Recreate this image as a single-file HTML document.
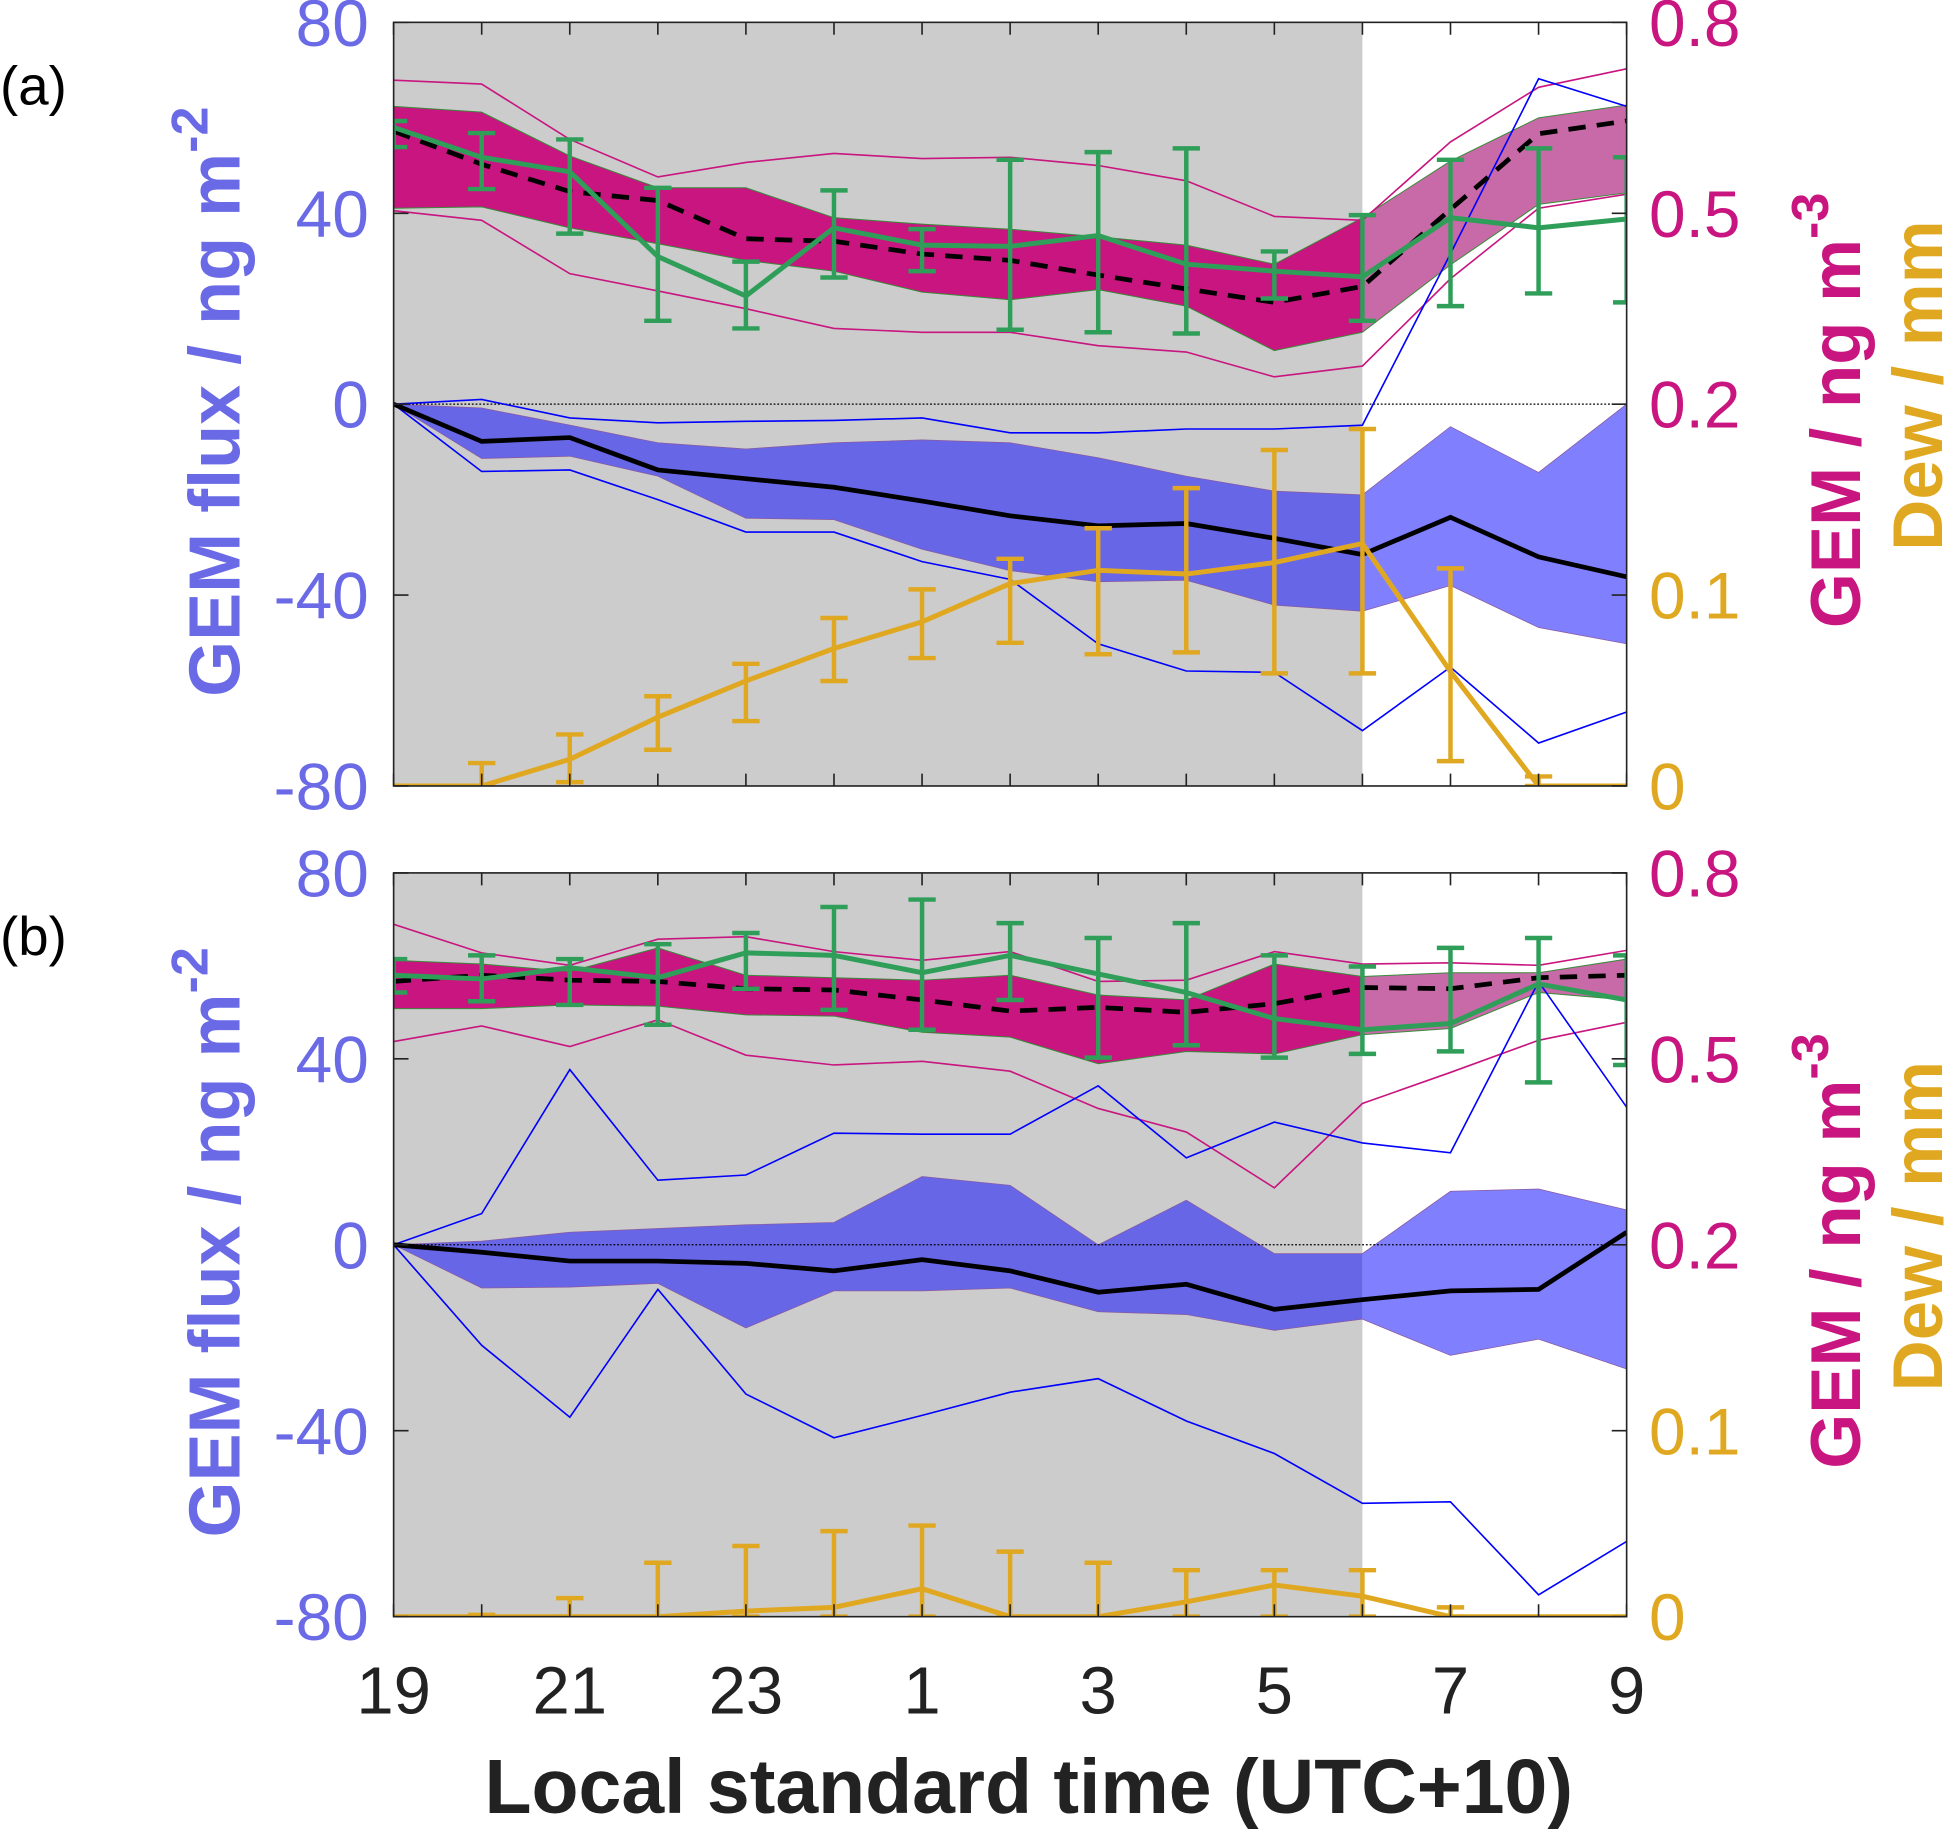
<!DOCTYPE html>
<html><head><meta charset="utf-8"><style>
html,body{margin:0;padding:0;background:#fff;}
svg{display:block;}
text{font-family:"Liberation Sans",sans-serif;}
</style></head><body>
<svg id="chart" xmlns="http://www.w3.org/2000/svg" width="1947" height="1829" viewBox="0 0 1568 1473" preserveAspectRatio="none"></svg>
<script>
const hours = [19,20,21,22,23,0,1,2,3,4,5,6,7,8,9];
const xTickLabels = ["19","21","23","1","3","5","7","9"];
const leftTicks = [80,40,0,-40,-80];
const gemTicks = [0.8,0.5,0.2];
const dewTicks = [0.1,0];
const nightEndIndex = 11;
// Panel (a)
const aFluxMean = [0,-7.8,-7.0,-13.8,-15.6,-17.4,-20.3,-23.4,-25.5,-25.0,-28.1,-31.5,-23.7,-32.0,-36.2];
const aFluxQ1 = [0,-0.8,-4.4,-8.1,-9.4,-8.1,-7.5,-8.1,-11.2,-15.1,-18.2,-19.0,-4.7,-14.3,0];
const aFluxQ3 = [0,-11.4,-10.9,-15.1,-23.9,-24.2,-30.4,-34.9,-37.2,-36.9,-42.1,-43.4,-38.0,-46.8,-50.2];
const aFluxMax = [0,1.0,-2.9,-3.9,-3.6,-3.4,-2.9,-6.0,-6.0,-5.2,-5.2,-4.4,31.5,68.2,62.4];
const aFluxMin = [0,-14.1,-13.8,-20.0,-26.8,-26.8,-33.0,-36.7,-50.2,-55.9,-56.2,-68.4,-55.1,-71.0,-64.5];
const aGemBandHi = [0.668,0.659,0.59,0.54,0.54,0.493,0.483,0.475,0.463,0.45,0.42,0.493,0.582,0.65,0.67];
const aGemBandLo = [0.508,0.51,0.477,0.452,0.426,0.409,0.376,0.364,0.38,0.354,0.284,0.313,0.419,0.514,0.532];
const aGemMean = [0.629,0.577,0.534,0.52,0.46,0.456,0.436,0.426,0.403,0.381,0.36,0.385,0.506,0.625,0.645];
const aGemMax = [0.709,0.703,0.616,0.557,0.58,0.594,0.586,0.588,0.575,0.551,0.495,0.489,0.612,0.698,0.727];
const aGemMin = [0.504,0.489,0.405,0.378,0.35,0.319,0.313,0.313,0.292,0.282,0.243,0.26,0.397,0.508,0.53];
const aGreen = [0.635,0.588,0.565,0.432,0.37,0.477,0.45,0.448,0.465,0.42,0.409,0.4,0.493,0.477,0.491];
const aGreenTop = [0.645,0.626,0.616,0.540,0.424,0.536,0.475,0.584,0.596,0.602,0.440,0.497,0.584,0.602,0.588];
const aGreenBot = [0.604,0.538,0.468,0.331,0.319,0.399,0.409,0.317,0.313,0.311,0.366,0.331,0.354,0.374,0.360];
const aDew = [0,0,0.014,0.036,0.055,0.072,0.086,0.106,0.113,0.111,0.117,0.127,0.060,0,0];
const aDewTop = [0,0.012,0.027,0.047,0.064,0.088,0.103,0.119,0.135,0.156,0.176,0.187,0.114,0.005,0];
const aDewBot = [0,0,0.002,0.019,0.034,0.055,0.067,0.075,0.069,0.07,0.059,0.059,0.013,0,0];
// Panel (b)
const bFluxMean = [0,-1.6,-3.5,-3.5,-4.0,-5.6,-3.2,-5.6,-10.2,-8.5,-13.9,-11.8,-9.9,-9.6,2.7];
const bFluxQ1 = [0,0.8,2.7,3.5,4.3,4.8,14.7,12.8,0,9.6,-1.9,-1.9,11.5,12.0,7.5];
const bFluxQ3 = [0,-9.3,-9.1,-8.3,-17.9,-9.9,-9.9,-9.3,-14.4,-15.0,-18.4,-16.0,-23.8,-20.3,-26.7];
const bFluxMax = [0,6.7,37.7,13.9,15.0,24.0,23.8,23.8,34.2,18.7,26.4,21.9,19.8,56.6,29.6];
const bFluxMin = [0,-21.6,-37.1,-9.6,-32.1,-41.5,-36.7,-31.7,-28.8,-37.9,-44.9,-55.6,-55.3,-75.3,-63.8];
const bGemBandHi = [0.659,0.653,0.641,0.679,0.635,0.631,0.627,0.635,0.603,0.595,0.653,0.633,0.639,0.639,0.661];
const bGemBandLo = [0.581,0.581,0.587,0.585,0.571,0.569,0.543,0.535,0.492,0.512,0.508,0.539,0.549,0.607,0.595];
const bGemMean = [0.625,0.635,0.627,0.625,0.613,0.611,0.595,0.577,0.583,0.575,0.589,0.615,0.613,0.631,0.635];
const bGemMax = [0.717,0.671,0.651,0.693,0.697,0.673,0.659,0.673,0.625,0.627,0.673,0.653,0.655,0.651,0.675];
const bGemMin = [0.528,0.553,0.52,0.563,0.506,0.49,0.496,0.48,0.42,0.382,0.292,0.428,0.478,0.53,0.559];
const bGreen = [0.635,0.629,0.647,0.631,0.671,0.667,0.639,0.667,0.637,0.607,0.565,0.547,0.557,0.621,0.595];
const bGreenTop = [0.661,0.667,0.661,0.685,0.703,0.745,0.757,0.719,0.695,0.719,0.667,0.649,0.679,0.695,0.667];
const bGreenBot = [0.607,0.593,0.587,0.555,0.613,0.579,0.547,0.595,0.502,0.522,0.502,0.508,0.512,0.462,0.49];
const bDew = [0,0,0,0,0.003,0.005,0.015,0,0,0.008,0.017,0.011,0,0,0];
const bDewTop = [0,0.001,0.010,0.029,0.038,0.046,0.049,0.035,0.029,0.025,0.025,0.025,0.005,0,0];
const bDewBot = [0,0,0,0,0,0,0,0,0,0,0,0,0,0,0];

const NS = "http://www.w3.org/2000/svg";
const svg = document.getElementById("chart");
const X0 = 317, X1 = 1310;
function mk(tag, attrs, parent){const e=document.createElementNS(NS,tag);for(const k in attrs)e.setAttribute(k,attrs[k]);(parent||svg).appendChild(e);return e;}
function xScale(i){return X0+(X1-X0)*i/(hours.length-1);}
function pts(arr,f){return arr.map((v,i)=>xScale(i).toFixed(1)+","+f(v).toFixed(1)).join(" ");}
function band(a,b,f){return pts(a,f)+" "+b.map((v,i)=>i).reverse().map(i=>xScale(i).toFixed(1)+","+f(b[i]).toFixed(1)).join(" ");}

const BL="#6a6ae6", MG="#c8157f", GD="#e0a820", GR="#2e9e58";

function panel(id, top, bot, d){
  const mid=(top+bot)/2;
  const flux=v=>mid-(v/80)*(mid-top);
  const gem=v=>mid-(v-0.2)/0.6*(mid-top);
  const dew=v=>bot-(v/0.2)*(bot-mid);
  const g=mk("g",{});
  
  
  const xn=xScale(nightEndIndex);
  const cpN=mk("clipPath",{id:id+"cn"},g); mk("rect",{x:X0,y:top,width:xn-X0,height:bot-top},cpN);
  const cpD=mk("clipPath",{id:id+"cd"},g); mk("rect",{x:xn,y:top,width:X1-xn,height:bot-top},cpD);
  const cpA=mk("clipPath",{id:id+"ca"},g); mk("rect",{x:X0,y:top,width:X1-X0,height:bot-top},cpA);
  const night=mk("rect",{x:X0,y:top,width:xn-X0,height:bot-top,fill:"#cccccc"},g);
  
  
  const gc=mk("g",{"clip-path":"url(#"+id+"ca)"},g);
  const mb1=mk("polygon",{points:band(d.gHi,d.gLo,gem),fill:"#c8157f",stroke:"#3a8a3a","stroke-width":0.8,"clip-path":"url(#"+id+"cn)"},gc);
  
  
  const mb2=mk("polygon",{points:band(d.gHi,d.gLo,gem),fill:"#c86aa8",stroke:"#3a8a3a","stroke-width":0.8,"clip-path":"url(#"+id+"cd)"},gc);
  
  
  const fb1=mk("polygon",{points:band(d.fQ1,d.fQ3,flux),fill:"#6666e6",stroke:"#8a5aa0","stroke-width":0.6,"clip-path":"url(#"+id+"cn)"},gc);
  
  
  const fb2=mk("polygon",{points:band(d.fQ1,d.fQ3,flux),fill:"#8080ff",stroke:"#8a5aa0","stroke-width":0.6,"clip-path":"url(#"+id+"cd)"},gc);
  
  
  const zl=mk("line",{x1:X0,x2:X1,y1:mid,y2:mid,stroke:"#000","stroke-width":1,"stroke-dasharray":"1.5,1.5"},gc);
  
  
  const lines=[
    [d.gMax,gem,MG,1.3,"gem-max-line"],[d.gMin,gem,MG,1.3,"gem-min-line"],
    [d.fMax,flux,"#0000ff",1.3,"flux-max-line"],[d.fMin,flux,"#0000ff",1.3,"flux-min-line"]];
  lines.forEach(L=>{const p=mk("polyline",{points:pts(L[0],L[1]),fill:"none",stroke:L[2],"stroke-width":L[3]},gc);
    
    });
  const gm=mk("polyline",{points:pts(d.gMean,gem),fill:"none",stroke:"#000","stroke-width":3.8,"stroke-dasharray":"14,9"},gc);
  
  
  const fm=mk("polyline",{points:pts(d.fMean,flux),fill:"none",stroke:"#000","stroke-width":3.8},gc);
  
  
  const gl=mk("polyline",{points:pts(d.gr,gem),fill:"none",stroke:GR,"stroke-width":4},gc);
  
  
  d.gr.forEach((v,i)=>{const x=xScale(i),y1=gem(d.grT[i]),y2=gem(d.grB[i]);
    const e=mk("path",{d:`M${x},${y1}V${y2}M${x-11},${y1}H${x+11}M${x-11},${y2}H${x+11}`,stroke:GR,"stroke-width":3.6,fill:"none"},gc);
    
    });
  const dl=mk("polyline",{points:pts(d.dw,dew),fill:"none",stroke:GD,"stroke-width":4},gc);
  
  
  d.dw.forEach((v,i)=>{if(d.dwT[i]<=v+0.0005)return;const x=xScale(i),y1=dew(d.dwT[i]),y2=dew(d.dwB[i]);
    const e=mk("path",{d:`M${x},${y1}V${y2}M${x-11},${y1}H${x+11}M${x-11},${y2}H${x+11}`,stroke:GD,"stroke-width":3.6,fill:"none"},gc);
    
    });
  const box=mk("rect",{x:X0,y:top,width:X1-X0,height:bot-top,fill:"none",stroke:"#222","stroke-width":1.3},g);
  
  
  hours.forEach((h,i)=>{const x=xScale(i);mk("path",{d:`M${x},${top}v10M${x},${bot}v-10`,stroke:"#222","stroke-width":1.3},g);});
  leftTicks.forEach(v=>{const y=flux(v);mk("path",{d:`M${X0},${y}h12M${X1},${y}h-12`,stroke:"#222","stroke-width":1.3},g);
    const t=mk("text",{x:X0-20,y:y+19,"text-anchor":"end","font-size":53,fill:BL},g);t.textContent=String(v);
    
    });
  gemTicks.forEach(v=>{const t=mk("text",{x:X1+18,y:gem(v)+19,"font-size":53,fill:MG},g);t.textContent=String(v);
    
    });
  dewTicks.forEach(v=>{const t=mk("text",{x:X1+18,y:dew(v)+19,"font-size":53,fill:GD},g);t.textContent=String(v);
    
    });
  const pl=mk("text",{x:0,y:top+66,"font-size":44,fill:"#000"},g);pl.textContent=id==="a"?"(a)":"(b)";
  
  
  const yl=mk("text",{transform:`translate(193,${mid-2}) rotate(-90)`,"text-anchor":"middle","font-size":58,"font-weight":"bold",fill:BL},g);
  yl.innerHTML='GEM flux  / ng m<tspan dy="-26" font-size="42">-2</tspan>';
  
  
  const yr=mk("text",{transform:`translate(1498,${mid+5}) rotate(-90)`,"text-anchor":"middle","font-size":57,"font-weight":"bold",fill:MG},g);
  yr.innerHTML='GEM / ng m<tspan dy="-26" font-size="42">-3</tspan>';
  
  
  const yd=mk("text",{transform:`translate(1564,${mid-15}) rotate(-90)`,"text-anchor":"middle","font-size":57,"font-weight":"bold",fill:GD},g);
  yd.textContent='Dew / mm';
  
  
}
panel("a",18,633,{fMean:aFluxMean,fQ1:aFluxQ1,fQ3:aFluxQ3,fMax:aFluxMax,fMin:aFluxMin,gHi:aGemBandHi,gLo:aGemBandLo,gMean:aGemMean,gMax:aGemMax,gMin:aGemMin,gr:aGreen,grT:aGreenTop,grB:aGreenBot,dw:aDew,dwT:aDewTop,dwB:aDewBot});
panel("b",703,1302,{fMean:bFluxMean,fQ1:bFluxQ1,fQ3:bFluxQ3,fMax:bFluxMax,fMin:bFluxMin,gHi:bGemBandHi,gLo:bGemBandLo,gMean:bGemMean,gMax:bGemMax,gMin:bGemMin,gr:bGreen,grT:bGreenTop,grB:bGreenBot,dw:bDew,dwT:bDewTop,dwB:bDewBot});
xTickLabels.forEach((s,k)=>{const t=mk("text",{x:xScale(k*2),y:1380,"text-anchor":"middle","font-size":54,fill:"#222"});t.textContent=s;
  
  });
const xt=mk("text",{x:(X0+X1)/2+15,y:1460,"text-anchor":"middle","font-size":62,"font-weight":"bold",fill:"#222"});
xt.textContent="Local standard time (UTC+10)";


</script>
</body></html>
